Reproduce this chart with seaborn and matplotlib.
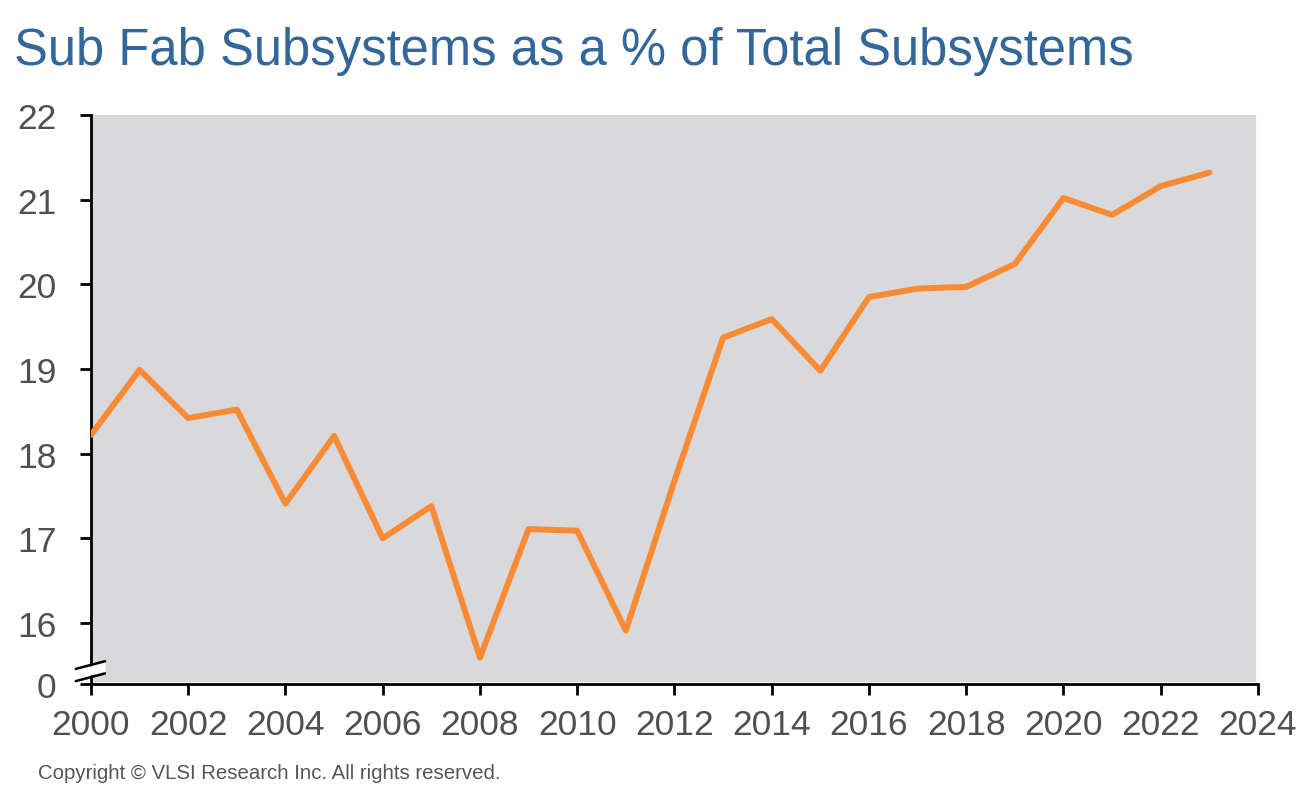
import matplotlib
matplotlib.use("Agg")
import matplotlib.pyplot as plt
import pandas as pd
import seaborn as sns

# data
years = list(range(2000, 2024))
share = [18.22, 18.99, 18.42, 18.52, 17.41, 18.21, 17.00, 17.38, 15.59, 17.11,
         17.09, 15.91, 17.68, 19.37, 19.59, 18.98, 19.85, 19.95, 19.97, 20.24,
         21.02, 20.82, 21.16, 21.32]
x_ticks = list(range(2000, 2025, 2))
y_ticks = [16, 17, 18, 19, 20, 21, 22]
y_bottom = 15.28  # axis is broken, bottom shown as "0"

df = pd.DataFrame({'year': years, 'share': share})

sns.set_style("white")
plt.rcParams['font.family'] = ['Liberation Sans', 'DejaVu Sans']

fig = plt.figure(figsize=(13.09, 8.03), dpi=100)
ax = fig.add_axes([0.0695, 0.147, 0.8915, 0.7085])
ax.set_facecolor('white')

# gray plot area, stops just short of the axes lines
ax.axhspan(y_bottom + 0.04, 22, xmin=0.001, xmax=0.9975, color='#d9d8da', zorder=0)

sns.lineplot(data=df, x='year', y='share', ax=ax, color='#f98b35',
             linewidth=4.3, zorder=3)

ax.set_xlim(2000, 2024)
ax.set_ylim(y_bottom, 22)
ax.set_xticks(x_ticks)
ax.set_xticklabels([str(t) for t in x_ticks])
ax.set_yticks([y_bottom] + y_ticks)
ax.set_yticklabels(['0'] + [str(t) for t in y_ticks])
ax.set_xlabel('')
ax.set_ylabel('')

for side in ['top', 'right']:
    ax.spines[side].set_visible(False)
for side in ['left', 'bottom']:
    ax.spines[side].set_linewidth(2)
    ax.spines[side].set_color('black')

ax.tick_params(axis='both', direction='out', length=8, width=2,
               bottom=True, left=True,
               color='black', labelcolor='#505050', labelsize=25.5)
ax.tick_params(axis='x', pad=9)
ax.tick_params(axis='y', pad=17)

# axis break marks
kw = dict(transform=ax.transAxes, color='black', linewidth=1.8, clip_on=False, zorder=5)
ax.plot([-0.013, 0.012], [0.0265, 0.04], **kw)
ax.plot([-0.013, 0.012], [0.005, 0.0185], **kw)
ax.fill([-0.013, 0.012, 0.012, -0.013], [0.009, 0.0225, 0.036, 0.0225],
        transform=ax.transAxes, color='white', clip_on=False, zorder=4)

fig.text(0.011, 0.936, 'Sub Fab Subsystems as a % of Total Subsystems',
         fontsize=36.5, color='#336699', va='center', ha='left')
fig.text(0.029, 0.037, 'Copyright \u00a9 VLSI Research Inc. All rights reserved.',
         fontsize=14.7, color='#555555', va='center', ha='left')

fig.savefig('out.png', dpi=100)
